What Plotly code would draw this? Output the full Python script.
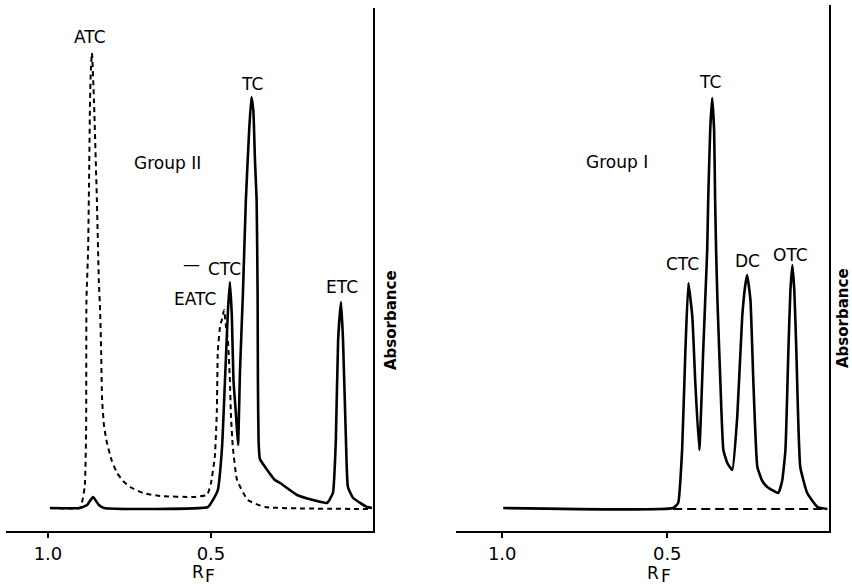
import plotly.graph_objects as go

# ---------------- data (RF, absorbance in arbitrary units) ----------------
# Group II – solid trace
g2_solid_rf = [0.994, 0.902, 0.880, 0.862, 0.844, 0.828, 0.509, 0.494, 0.479, 0.466,
               0.457, 0.448, 0.442, 0.436, 0.431, 0.423, 0.417, 0.411, 0.402, 0.393,
               0.383, 0.376, 0.370, 0.365, 0.360, 0.357, 0.356, 0.354, 0.350, 0.334,
               0.304, 0.288, 0.236, 0.187, 0.144, 0.126, 0.117, 0.110, 0.101, 0.095,
               0.086, 0.080, 0.064, 0.021, 0.006]
g2_solid_abs = [23, 23, 26, 34, 26, 23, 24, 31, 41, 84,
                151, 220, 249, 215, 151, 115, 86, 160, 238, 331,
                400, 434, 420, 370, 331, 238, 150, 90, 72, 64,
                51, 48, 36, 31, 28, 38, 91, 191, 229, 191,
                91, 44, 33, 24, 23]

# Group II – dashed trace
g2_dash_rf = [0.994, 0.902, 0.896, 0.887, 0.883, 0.882, 0.877, 0.874, 0.871, 0.868,
              0.865, 0.859, 0.850, 0.844, 0.840, 0.837, 0.834, 0.828, 0.819, 0.804,
              0.788, 0.770, 0.748, 0.709, 0.656, 0.555, 0.512, 0.500, 0.488, 0.482,
              0.479, 0.472, 0.466, 0.460, 0.454, 0.448, 0.442, 0.439, 0.433, 0.420,
              0.387, 0.334, 0.006]
g2_dash_abs = [23, 23, 28, 45, 100, 231, 280, 350, 431, 465,
               478, 431, 331, 250, 220, 180, 131, 105, 88, 70,
               58, 50, 44, 38, 35, 34, 36, 48, 75, 120,
               180, 205, 212, 221, 205, 190, 151, 118, 84, 51,
               31, 24, 22]

# Group I – solid trace
g1_solid_rf = [0.997, 0.482, 0.467, 0.455, 0.445, 0.436, 0.424, 0.415, 0.403, 0.391,
               0.385, 0.379, 0.376, 0.370, 0.364, 0.358, 0.355, 0.352, 0.348, 0.339,
               0.330, 0.318, 0.303, 0.288, 0.273, 0.264, 0.258, 0.248, 0.239, 0.227,
               0.212, 0.197, 0.164, 0.152, 0.142, 0.133, 0.127, 0.121, 0.115, 0.109,
               0.097, 0.076, 0.045, 0.015]
g1_solid_abs = [23, 23, 28, 81, 181, 248, 214, 148, 81, 181,
                231, 281, 331, 400, 433, 400, 331, 281, 231, 148,
                81, 68, 61, 114, 214, 245, 256, 231, 148, 64,
                50, 44, 38, 50, 81, 181, 240, 266, 240, 181,
                64, 38, 24, 22]

# Group I – dashed baseline
g1_dash_rf = [0.482, 0.015]
g1_dash_abs = [22, 22]

tick_vals = [1.0, 0.5]
tick_text = ["1.0", "0.5"]

# ---------------- figure ----------------
W, H = 852, 588
FONT = "DejaVu Sans"

def px(x):
    return x / W

def py(y):
    return 1 - y / H

fig = go.Figure()
fig.add_trace(go.Scatter(x=g2_dash_rf, y=g2_dash_abs, mode="lines",
                         line=dict(color="black", width=2, dash="5px,4px", shape="spline", smoothing=0.4),
                         xaxis="x", yaxis="y", showlegend=False, hoverinfo="skip"))
fig.add_trace(go.Scatter(x=g2_solid_rf, y=g2_solid_abs, mode="lines",
                         line=dict(color="black", width=2.6, shape="spline", smoothing=0.4),
                         xaxis="x", yaxis="y", showlegend=False, hoverinfo="skip"))
fig.add_trace(go.Scatter(x=g1_dash_rf, y=g1_dash_abs, mode="lines",
                         line=dict(color="black", width=2, dash="9px,5px"),
                         xaxis="x2", yaxis="y2", showlegend=False, hoverinfo="skip"))
fig.add_trace(go.Scatter(x=g1_solid_rf, y=g1_solid_abs, mode="lines",
                         line=dict(color="black", width=2.6, shape="spline", smoothing=0.4),
                         xaxis="x2", yaxis="y2", showlegend=False, hoverinfo="skip"))

xcommon = dict(showline=True, linecolor="black", linewidth=2, ticks="outside",
               ticklen=5, tickwidth=2, tickcolor="black", tickvals=tick_vals,
               ticktext=tick_text, showgrid=False, zeroline=False,
               tickfont=dict(family=FONT, size=18, color="black"))
ycommon = dict(showline=True, linecolor="black", linewidth=2, side="right",
               showticklabels=False, ticks="", showgrid=False, zeroline=False)

fig.update_layout(
    width=W, height=H,
    margin=dict(l=0, r=0, t=0, b=0),
    paper_bgcolor="white", plot_bgcolor="white",
    xaxis=dict(domain=[5.6 / W, 373 / W], range=[1.13, 0.003], anchor="y", **xcommon),
    yaxis=dict(domain=[57 / H, 580 / H], range=[0, 523], anchor="x", **ycommon),
    xaxis2=dict(domain=[456 / W, 829 / W], range=[1.14, 0.01], anchor="y2", **xcommon),
    yaxis2=dict(domain=[57 / H, 583 / H], range=[0, 526], anchor="x2", **ycommon),
)

labels = [
    ("ATC", 90, 37, False, 0, 17, "middle"),
    ("TC", 252, 84, False, 0, 17, "middle"),
    ("Group II", 167, 163, False, 0, 17, "middle"),
    ("—", 191, 264, False, 0, 17, "middle"),
    ("CTC", 224, 269, False, 0, 17, "middle"),
    ("EATC", 195, 299, False, 0, 17, "middle"),
    ("ETC", 342, 287, False, 0, 17, "middle"),
    ("Absorbance", 391, 320, True, -90, 15, "middle"),
    ("R", 198, 572, False, 0, 17, "middle"),
    ("F", 210, 588, False, 0, 17, "bottom"),
    ("TC", 710, 82, False, 0, 17, "middle"),
    ("Group I", 617, 162, False, 0, 17, "middle"),
    ("CTC", 682, 264, False, 0, 17, "middle"),
    ("DC", 747, 261, False, 0, 17, "middle"),
    ("OTC", 790, 255, False, 0, 17, "middle"),
    ("Absorbance", 843, 318, True, -90, 15, "middle"),
    ("R", 653, 573, False, 0, 17, "middle"),
    ("F", 666, 588, False, 0, 17, "bottom"),
]
for text, x, y, bold, ang, size, yanc in labels:
    fig.add_annotation(text=f"<b>{text}</b>" if bold else text, x=px(x), y=py(y),
                       xref="paper", yref="paper", xanchor="center", yanchor=yanc,
                       showarrow=False, textangle=ang,
                       font=dict(family=FONT, size=size, color="black"))

fig.write_html("out.html", config={"displayModeBar": False},
               post_script="document.body.style.margin='0';")
